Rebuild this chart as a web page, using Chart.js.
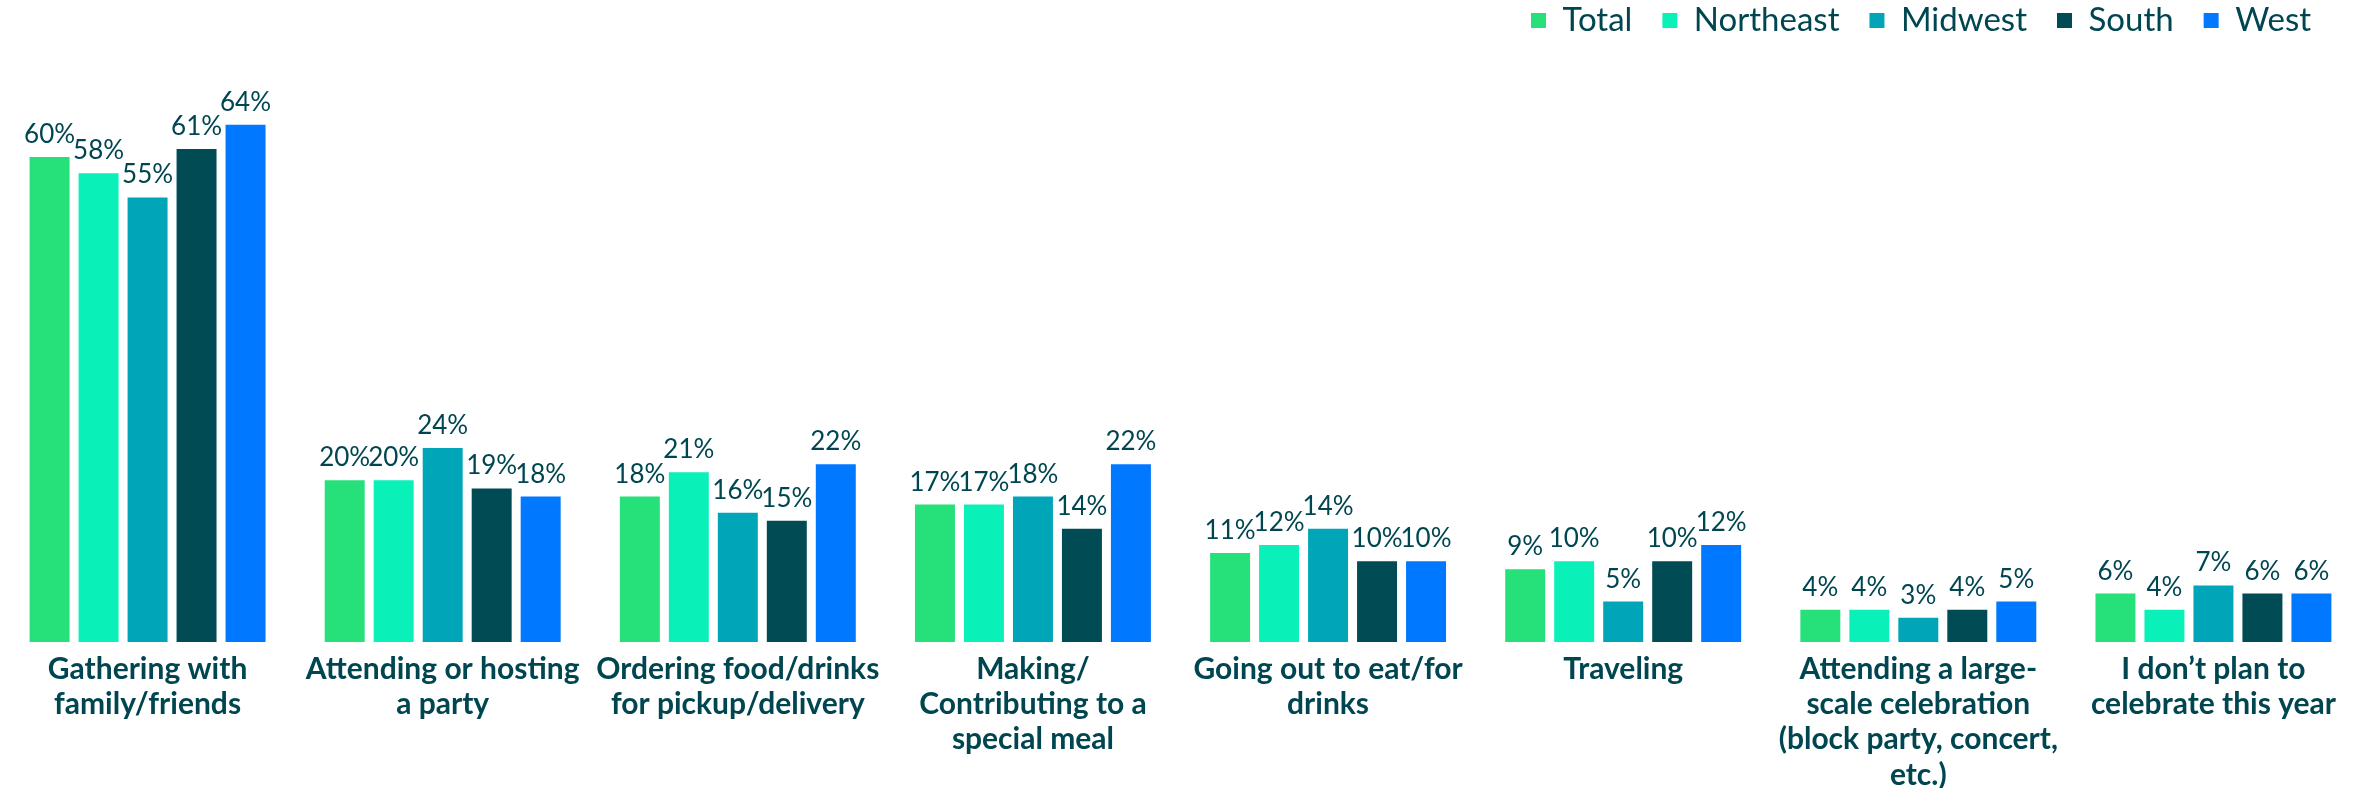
<!DOCTYPE html>
<html>
<head>
<meta charset="utf-8">
<script src="https://cdn.jsdelivr.net/npm/chart.js@4"></script>
<style>
  html, body { margin: 0; padding: 0; background: #fff; }
  #wrap { width: 2361px; height: 788px; }
</style>
</head>
<body>
<div id="wrap"><canvas id="chart" width="2361" height="788"></canvas></div>
<script>
const categories = [
    ['Gathering with', 'family/friends'],
    ['Attending or hosting', 'a party'],
    ['Ordering food/drinks', 'for pickup/delivery'],
    ['Making/', 'Contributing to a', 'special meal'],
    ['Going out to eat/for', 'drinks'],
    ['Traveling'],
    ['Attending a large-', 'scale celebration', '(block party, concert,', 'etc.)'],
    ["I don\u2019t plan to", 'celebrate this year']
];
const seriesNames = ['Total', 'Northeast', 'Midwest', 'South', 'West'];
const seriesColors = ['#26E07A', '#0AF0B9', '#00A6B8', '#004B54', '#0078FF'];

const total     = [60, 20, 18, 17, 11, 9, 4, 6];
const northeast = [58, 20, 21, 17, 12, 10, 4, 4];
const midwest   = [55, 24, 16, 18, 14, 5, 3, 7];
const south     = [61, 19, 15, 14, 10, 10, 4, 6];
const west      = [64, 18, 22, 22, 10, 12, 5, 6];

const textColor = '#004650';
const allValues = [total, northeast, midwest, south, west];

// value labels above every bar
const valueLabels = {
    id: 'valueLabels',
    afterDatasetsDraw(chart) {
        const ctx = chart.ctx;
        ctx.save();
        ctx.font = '26px Lato';
        ctx.fillStyle = textColor;
        ctx.textAlign = 'center';
        ctx.textBaseline = 'alphabetic';
        chart.data.datasets.forEach((ds, i) => {
            const meta = chart.getDatasetMeta(i);
            meta.data.forEach((bar, j) => {
                ctx.fillText(ds.data[j] + '%', bar.x, bar.y - 14);
            });
        });
        ctx.restore();
    }
};

// nudge the legend up and a little left, chart area stays where it is
const legendShift = {
    id: 'legendShift',
    afterLayout(chart) {
        const lg = chart.legend;
        if (!lg) return;
        lg.top -= 26;
        lg.bottom -= 26;
        lg.left -= 20;
        lg.right -= 20;
    }
};

new Chart(document.getElementById('chart'), {
    type: 'bar',
    data: {
        labels: categories,
        datasets: seriesNames.map((name, i) => ({
            label: name,
            data: allValues[i],
            backgroundColor: seriesColors[i],
            categoryPercentage: 0.83,
            barPercentage: 0.816
        }))
    },
    options: {
        responsive: false,
        animation: false,
        layout: { padding: 0 },
        plugins: {
            tooltip: { enabled: false },
            legend: {
                position: 'top',
                align: 'end',
                labels: {
                    color: textColor,
                    font: { family: 'Lato', size: 33 },
                    boxWidth: 15,
                    boxHeight: 15,
                    padding: 30
                }
            }
        },
        scales: {
            x: {
                grid: { display: false, drawTicks: false },
                border: { display: false },
                ticks: {
                    color: textColor,
                    font: { family: 'Lato', size: 30, weight: 'bold', lineHeight: 1.17 },
                    padding: 10,
                    autoSkip: false,
                    maxRotation: 0,
                    minRotation: 0
                },
                afterFit(scale) { scale.height = 146; }
            },
            y: {
                display: false,
                min: 0,
                max: 70.4
            }
        }
    },
    plugins: [valueLabels, legendShift]
});
</script>
</body>
</html>
